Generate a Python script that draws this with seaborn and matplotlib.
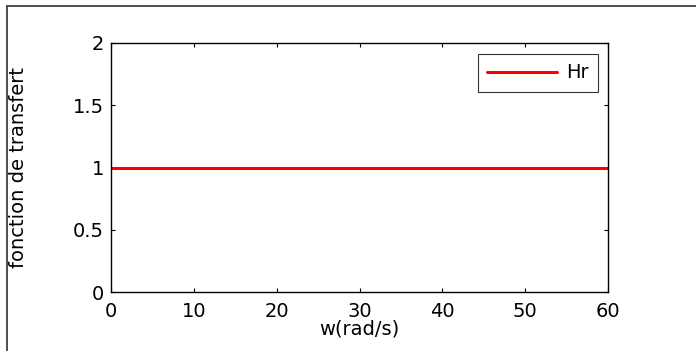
import matplotlib
matplotlib.use("Agg")
import matplotlib.pyplot as plt
import seaborn as sns
import pandas as pd
from matplotlib.lines import Line2D

w = [0, 60]
hr = [1, 1]
xticks = [0, 10, 20, 30, 40, 50, 60]
yticks = [0, 0.5, 1, 1.5, 2]
yticklabels = ["0", "0.5", "1", "1.5", "2"]

sns.set_style("white")
plt.rcParams['font.family'] = ['DejaVu Sans']
FS = 14
plt.rcParams['font.size'] = FS
plt.rcParams['text.color'] = 'black'
plt.rcParams['axes.labelcolor'] = 'black'

W, H = 696, 351
fig = plt.figure(figsize=(W / 100, H / 100), dpi=100)
fig.patch.set_facecolor("white")
ax = fig.add_axes([111 / W, 1 - 292 / H, (608 - 111) / W, (292 - 43) / H])

df = pd.DataFrame({"w": w, "Hr": hr})
sns.lineplot(data=df, x="w", y="Hr", ax=ax, color="#ff0000", linewidth=2.2, label="Hr")

ax.set_xlim(0, 60)
ax.set_ylim(0, 2)
ax.set_xticks(xticks)
ax.set_xticklabels([str(t) for t in xticks])
ax.set_yticks(yticks)
ax.set_yticklabels(yticklabels)
ax.set_xlabel("w(rad/s)", fontsize=FS, color="black")
ax.set_ylabel("fonction de transfert", fontsize=FS, color="black")
ax.yaxis.set_label_coords(-0.166, 0.5)
ax.xaxis.set_label_coords(0.5, -0.112)
ax.tick_params(direction="in", length=3, width=0.8, top=True, right=True,
               bottom=True, left=True, labelsize=FS, colors="black")
ax.tick_params(axis="x", pad=7)
ax.tick_params(axis="y", pad=5)
for s in ax.spines.values():
    s.set_visible(True)
    s.set_color("black")
    s.set_linewidth(1.0)

leg = ax.legend(loc="upper right", bbox_to_anchor=(598 / W, 1 - 54 / H),
                bbox_transform=fig.transFigure, frameon=True, fancybox=False,
                handlelength=3.6, handletextpad=0.46, borderpad=0.48,
                fontsize=FS, borderaxespad=0, labelcolor="black")
leg.get_frame().set_edgecolor("black")
leg.get_frame().set_linewidth(0.8)

# outer figure frame (partially visible)
fig.add_artist(Line2D([7 / W, 7 / W], [1 - 6 / H, 0], transform=fig.transFigure,
                      color="#404040", linewidth=1.3))
fig.add_artist(Line2D([7 / W, 1], [1 - 6 / H, 1 - 6 / H], transform=fig.transFigure,
                      color="#404040", linewidth=1.3))

fig.savefig("out.png", dpi=100)
